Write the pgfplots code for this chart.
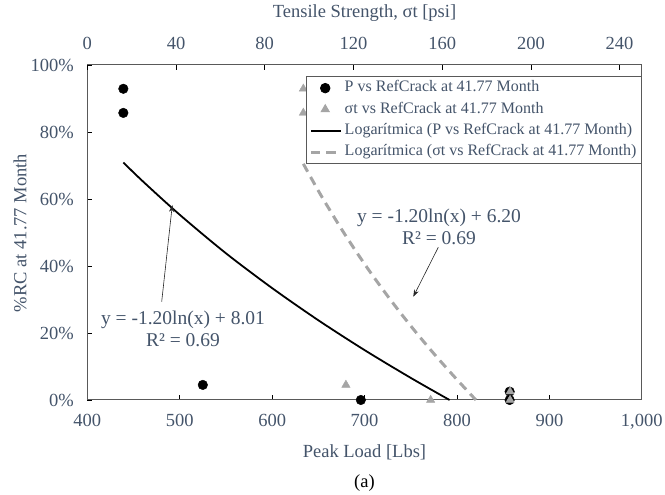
\documentclass[border=0pt]{standalone}
\usepackage{pgfplots}
\pgfplotsset{compat=1.18}
\usepackage{fontspec}
\setmainfont{Liberation Serif}
\usetikzlibrary{arrows.meta}
\definecolor{textc}{RGB}{68,84,106}
\definecolor{axc}{RGB}{89,89,89}
\definecolor{tri}{RGB}{165,165,165}
\newcommand{\tickfont}{\fontsize{18.5}{20}\selectfont}
\begin{document}
\begin{tikzpicture}[x=1pt,y=1pt]
\path[use as bounding box] (0,0) rectangle (665,495);
\begin{axis}[
  at={(87.3pt,95pt)}, anchor=south west, scale only axis,
  width=554.5pt, height=335pt,
  xmin=400, xmax=1000, ymin=0, ymax=100,
  xtick={400,500,...,1000}, xticklabels={400,500,600,700,800,900,{1,000}},
  ytick={0,20,...,100}, yticklabels={0\%,20\%,40\%,60\%,80\%,100\%},
  xtick pos=bottom, ytick pos=left, tick align=inside,
  major tick length=5pt,
  axis line style={axc, line width=1pt},
  tick style={black, line width=0.8pt},
  ticklabel style={font=\tickfont, text=textc},
  xticklabel style={yshift=-10.5pt},
  yticklabel style={xshift=-10pt},
  clip=false,
]
\addplot[only marks, mark=*, mark size=4.8pt, black] table {
x y
439 92.9
439 85.7
525 4.5
696 0
857 2.5
857 0
};
\addplot[black, line width=1.8pt, smooth] table {
x y
439 70.9
460 65.3
500 55.3
550 43.8
600 33.4
650 23.8
700 14.9
750 6.6
792 0.0
};
\end{axis}
\begin{axis}[
  at={(87.3pt,95pt)}, anchor=south west, scale only axis,
  width=554.5pt, height=335pt,
  xmin=0, xmax=250, ymin=0, ymax=100,
  axis x line*=top, axis y line=none,
  xtick={0,40,...,240}, xticklabels={0,40,80,120,160,200,240},
  tick align=inside, major tick length=5pt,
  axis line style={axc, line width=1pt},
  tick style={black, line width=0.8pt},
  ticklabel style={font=\tickfont, text=textc},
  xticklabel style={yshift=11.5pt},
  clip=false,
  legend image code/.code={\draw[mark repeat=2,mark phase=2,#1] plot coordinates {(0pt,0pt) (14pt,0pt) (30pt,0pt)};},
  legend cell align=left,
  legend style={at={(1,1)}, anchor=north east, yshift=-11pt,
    draw=axc, line width=0.8pt, fill=white,
    font=\fontsize{16}{18}\selectfont, text=textc,
    inner xsep=3pt, inner ysep=4pt, row sep=5.8pt,
    nodes={inner xsep=2pt, inner ysep=0pt, text height=11.5pt, text depth=4pt}},
]
\addlegendimage{only marks, mark=*, mark size=4.8pt, black}
\addlegendentry{P vs RefCrack at 41.77 Month}
\addplot[only marks, mark=triangle*, mark size=4.8pt, color=tri] table {
x y
97.4 92.9
97.4 85.7
116.6 4.5
154.8 0
190.6 2.5
190.6 0
};
\addlegendentry{σt vs RefCrack at 41.77 Month}
\addlegendimage{black, line width=1.8pt}
\addlegendentry{Logarítmica (P vs RefCrack at 41.77 Month)}
\addplot[tri, line width=3pt, dash pattern=on 9pt off 6pt, smooth] table {
x y
97.4 70.5
105 61.5
115 50.6
125 40.6
135 31.4
145 22.8
155 14.8
165 7.3
175.2 0
};
\addlegendentry{Logarítmica (σt vs RefCrack at 41.77 Month)}
\end{axis}
\node[text=textc, font=\tickfont] at (364.5,43) {Peak Load [Lbs]};
\node[text=black, font=\tickfont] at (364.5,12) {(a)};
\node[text=textc, font=\tickfont, rotate=90] at (20,262) {\%RC at 41.77 Month};
\node[text=textc, font=\tickfont] at (364.5,482) {Tensile Strength, σt [psi]};
\node[text=textc, align=center, font=\fontsize{19.5}{22}\selectfont] at (183,166) {y = -1.20ln(x) + 8.01\\R² = 0.69};
\draw[black!85, line width=0.6pt, -{Stealth[length=7pt,width=5pt]}] (161.7,193.3) -- (172.3,290);
\node[text=textc, align=center, font=\fontsize{19.5}{22}\selectfont] at (439,268) {y = -1.20ln(x) + 6.20\\R² = 0.69};
\draw[black!85, line width=0.6pt, -{Stealth[length=7pt,width=5pt]}] (438.3,247.7) -- (413.3,198.3);
\end{tikzpicture}
\end{document}
